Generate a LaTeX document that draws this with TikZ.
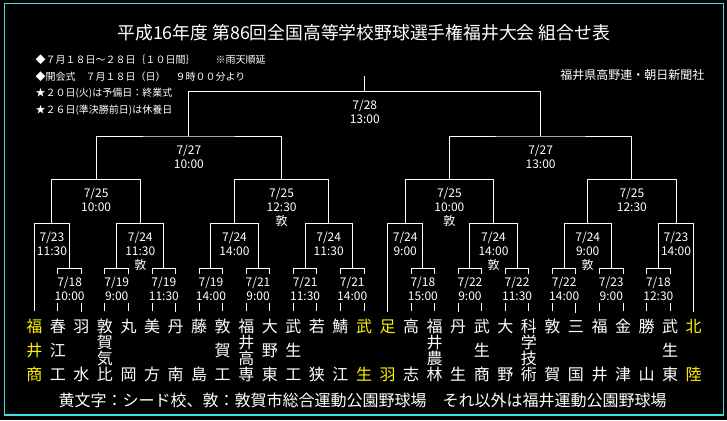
\documentclass[tikz,border=0pt]{standalone}
\usepackage{fontspec}
\setmainfont{Noto Sans CJK JP}
\usepackage{tikz}
\usetikzlibrary{positioning}
\definecolor{framecyan}{RGB}{64,224,224}

\begin{document}
\begin{tikzpicture}[x=1pt, y=-1pt, line width=1pt, white, node distance=7.55pt,
  team/.style={inner sep=0pt, outer xsep=0pt, outer ysep=8pt, align=center, text=white},
  seed/.style={team, text=yellow},
  two/.style={font=\fontsize{16}{47.3}\selectfont},
  three/.style={font=\fontsize{16}{23.65}\selectfont},
  four/.style={font={\fontsize{16}{15.77}\selectfont\lineskiplimit=-9pt}},
  game/.style={inner xsep=1pt, inner ysep=3pt, align=center, text=white, font=\fontsize{12}{14}\selectfont},
  firstgame/.style={game, fill=black}]

    %black page with the cyan frame
    \fill[black] (0,0) rectangle (727,420);
    \useasboundingbox (0,0) rectangle (727,420);
    \draw[framecyan, line width=1.2pt] (4.5,3.5) rectangle (723.5,415);

    %title, notes and credits
    \node (title) [font=\fontsize{17.8}{20}\selectfont] at (363.7,33){平成16年度 第86回全国高等学校野球選手権福井大会 組合せ表};
    \node (notes) [inner sep=0pt, align=left, anchor=west, font=\fontsize{10}{16.7}\selectfont] at (35,85){◆７月１８日～２８日｛１０日間｝　　※雨天順延\\◆開会式　７月１８日（日）　９時００分より\\★２０日(火)は予備日：終業式\\★２６日(準決勝前日)は休養日};
    \node (credit) [font=\fontsize{12}{14}\selectfont] at (632.3,75){福井県高野連・朝日新聞社};
    \node (legend) [font=\fontsize{16}{18}\selectfont] at (362.5,400){黄文字：シード校、敦：敦賀市総合運動公園野球場　それ以外は福井運動公園野球場};

    %teams, left to right (base = last character)
    \node (t0) [seed, three, anchor=base] at (34.3,380.1){福\\井\\商};%draws 福井商
    \node (t1) [team, three, right=of t0.base east, anchor=base west]{春\\江\\工};
    \node (t2) [team, two, right=of t1.base east, anchor=base west]{羽\\水};
    \node (t3) [team, four, right=of t2.base east, anchor=base west]{敦\\賀\\気\\比};
    \node (t4) [team, two, right=of t3.base east, anchor=base west]{丸\\岡};
    \node (t5) [team, two, right=of t4.base east, anchor=base west]{美\\方};
    \node (t6) [team, two, right=of t5.base east, anchor=base west]{丹\\南};
    \node (t7) [team, two, right=of t6.base east, anchor=base west]{藤\\島};
    \node (t8) [team, three, right=of t7.base east, anchor=base west]{敦\\賀\\工};
    \node (t9) [team, four, right=of t8.base east, anchor=base west]{福\\井\\高\\専};
    \node (t10) [team, three, right=of t9.base east, anchor=base west]{大\\野\\東};
    \node (t11) [team, three, right=of t10.base east, anchor=base west]{武\\生\\工};
    \node (t12) [team, two, right=of t11.base east, anchor=base west]{若\\狭};
    \node (t13) [team, two, right=of t12.base east, anchor=base west]{鯖\\江};
    \node (t14) [seed, two, right=of t13.base east, anchor=base west]{武\\生};%draws 武生
    \node (t15) [seed, two, right=of t14.base east, anchor=base west]{足\\羽};%draws 足羽
    \node (t16) [team, two, right=of t15.base east, anchor=base west]{高\\志};
    \node (t17) [team, four, right=of t16.base east, anchor=base west]{福\\井\\農\\林};
    \node (t18) [team, two, right=of t17.base east, anchor=base west]{丹\\生};
    \node (t19) [team, three, right=of t18.base east, anchor=base west]{武\\生\\商};
    \node (t20) [team, two, right=of t19.base east, anchor=base west]{大\\野};
    \node (t21) [team, four, right=of t20.base east, anchor=base west]{科\\学\\技\\術};
    \node (t22) [team, two, right=of t21.base east, anchor=base west]{敦\\賀};
    \node (t23) [team, two, right=of t22.base east, anchor=base west]{三\\国};
    \node (t24) [team, two, right=of t23.base east, anchor=base west]{福\\井};
    \node (t25) [team, two, right=of t24.base east, anchor=base west]{金\\津};
    \node (t26) [team, two, right=of t25.base east, anchor=base west]{勝\\山};
    \node (t27) [team, three, right=of t26.base east, anchor=base west]{武\\生\\東};
    \node (t28) [seed, two, right=of t27.base east, anchor=base west]{北\\陸};%draws 北陸

    %match points, one per round
    \coordinate (r1a) at (69.63,268.3);
    \coordinate (r1b) at (116.73,268.3);
    \coordinate (r1c) at (163.83,268.3);
    \coordinate (r1d) at (210.93,268.3);
    \coordinate (r1e) at (258.03,268.3);
    \coordinate (r1f) at (305.13,268.3);
    \coordinate (r1g) at (352.23,268.3);
    \coordinate (r1h) at (422.88,268.3);
    \coordinate (r1i) at (469.98,268.3);
    \coordinate (r1j) at (517.08,268.3);
    \coordinate (r1k) at (564.18,268.3);
    \coordinate (r1l) at (611.28,268.3);
    \coordinate (r1m) at (658.38,268.3);
    \coordinate (r2a) at (51.97,223.3);
    \coordinate (r2b) at (140.28,223.3);
    \coordinate (r2c) at (234.48,223.3);
    \coordinate (r2d) at (328.68,223.3);
    \coordinate (r2e) at (405.22,223.3);
    \coordinate (r2f) at (493.53,223.3);
    \coordinate (r2g) at (587.73,223.3);
    \coordinate (r2h) at (676.04,223.3);
    \coordinate (r3a) at (96.13,179.3);
    \coordinate (r3b) at (281.58,179.3);
    \coordinate (r3c) at (449.38,179.3);
    \coordinate (r3d) at (631.89,179.3);
    \coordinate (sfa) at (188.86,136);
    \coordinate (sfb) at (540.64,136);
    \coordinate (fin) at (364.75,91.7);
    \coordinate (champ) at (364.75,76);

    %first round brackets
    \draw (t1.north) |- (r1a) -| (t2.north);
    \draw (t3.north) |- (r1b) -| (t4.north);
    \draw (t5.north) |- (r1c) -| (t6.north);
    \draw (t7.north) |- (r1d) -| (t8.north);
    \draw (t9.north) |- (r1e) -| (t10.north);
    \draw (t11.north) |- (r1f) -| (t12.north);
    \draw (t13.north) |- (r1g) -| (t14.north);
    \draw (t16.north) |- (r1h) -| (t17.north);
    \draw (t18.north) |- (r1i) -| (t19.north);
    \draw (t20.north) |- (r1j) -| (t21.north);
    \draw (t22.north) |- (r1k) -| (t23.north);
    \draw (t24.north) |- (r1l) -| (t25.north);
    \draw (t26.north) |- (r1m) -| (t27.north);

    %second round, quarter finals, semi finals, final
    \draw (t0.north) |- (r2a) -| (r1a);
    \draw (r1b) |- (r2b) -| (r1c);
    \draw (r1d) |- (r2c) -| (r1e);
    \draw (r1f) |- (r2d) -| (r1g);
    \draw (t15.north) |- (r2e) -| (r1h);
    \draw (r1i) |- (r2f) -| (r1j);
    \draw (r1k) |- (r2g) -| (r1l);
    \draw (r1m) |- (r2h) -| (t28.north);
    \draw (r2a) |- (r3a) -| (r2b);
    \draw (r2c) |- (r3b) -| (r2d);
    \draw (r2e) |- (r3c) -| (r2f);
    \draw (r2g) |- (r3d) -| (r2h);
    \draw (r3a) |- (sfa) -| (r3b);
    \draw (r3c) |- (sfb) -| (r3d);
    \draw (sfa) |- (fin) -| (sfb);
    \draw (fin) -- (champ);

    %dates and times under each bracket
    \node (r1aL) [firstgame, below=5pt of r1a]{7/18\\10:00};
    \node (r1bL) [firstgame, below=5pt of r1b]{7/19\\9:00};
    \node (r1cL) [firstgame, below=5pt of r1c]{7/19\\11:30};
    \node (r1dL) [firstgame, below=5pt of r1d]{7/19\\14:00};
    \node (r1eL) [firstgame, below=5pt of r1e]{7/21\\9:00};
    \node (r1fL) [firstgame, below=5pt of r1f]{7/21\\11:30};
    \node (r1gL) [firstgame, below=5pt of r1g]{7/21\\14:00};
    \node (r1hL) [firstgame, below=5pt of r1h]{7/18\\15:00};
    \node (r1iL) [firstgame, below=5pt of r1i]{7/22\\9:00};
    \node (r1jL) [firstgame, below=5pt of r1j]{7/22\\11:30};
    \node (r1kL) [firstgame, below=5pt of r1k]{7/22\\14:00};
    \node (r1lL) [firstgame, below=5pt of r1l]{7/23\\9:00};
    \node (r1mL) [firstgame, below=5pt of r1m]{7/18\\12:30};
    \node (r2aL) [game, below=5pt of r2a]{7/23\\11:30};
    \node (r2bL) [game, below=5pt of r2b]{7/24\\11:30\\敦};
    \node (r2cL) [game, below=5pt of r2c]{7/24\\14:00};
    \node (r2dL) [game, below=5pt of r2d]{7/24\\11:30};
    \node (r2eL) [game, below=5pt of r2e]{7/24\\9:00};
    \node (r2fL) [game, below=5pt of r2f]{7/24\\14:00\\敦};
    \node (r2gL) [game, below=5pt of r2g]{7/24\\9:00\\敦};
    \node (r2hL) [game, below=5pt of r2h]{7/23\\14:00};
    \node (r3aL) [game, below=5pt of r3a]{7/25\\10:00};
    \node (r3bL) [game, below=5pt of r3b]{7/25\\12:30\\敦};
    \node (r3cL) [game, below=5pt of r3c]{7/25\\10:00\\敦};
    \node (r3dL) [game, below=5pt of r3d]{7/25\\12:30};
    \node (sfaL) [game, below=5pt of sfa]{7/27\\10:00};
    \node (sfbL) [game, below=5pt of sfb]{7/27\\13:00};
    \node (finL) [game, below=5pt of fin]{7/28\\13:00};
  \end{tikzpicture}
\end{document}
